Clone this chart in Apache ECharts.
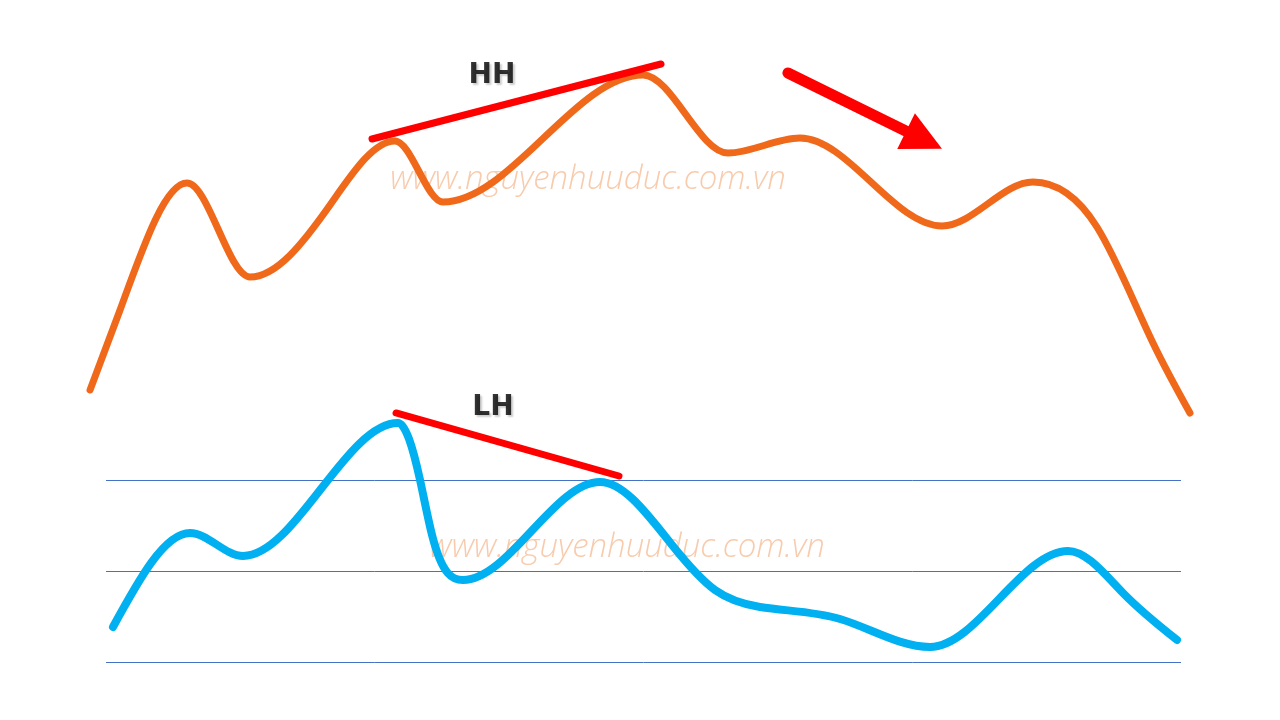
<!DOCTYPE html>
<html>
<head>
<meta charset="utf-8">
<script src="https://cdn.jsdelivr.net/npm/echarts@6/dist/echarts.min.js"></script>
<style>
html,body{margin:0;padding:0;background:#fff;}
#chart{width:1280px;height:720px;}
</style>
</head>
<body>
<div id="chart"></div>
<script>
// Price (orange) curve: time index and price value
const priceT = [0.17, 2.67, 8.25, 13.5, 20.17, 25.58, 29.58, 46.25, 53.33, 59.33, 71.17, 78.75, 84.08, 88.75, 91.83];
const priceV = [7.5, 27.5, 59.25, 35.75, 53.75, 69.75, 54.5, 86.25, 66.75, 70.5, 48.5, 59.5, 48.25, 19.25, 1.75];

// Oscillator (blue) curve: time index and oscillator value
const oscT = [2.08, 8.5, 12.92, 25.83, 27.67, 28.67, 31.25, 42.67, 48.67, 52.25, 56, 62.67, 70.17, 81.67, 86.25, 90.75];
const oscV = [37.69, 58.35, 53.3, 82.53, 70, 57.91, 48.02, 69.56, 55.71, 45.82, 42.09, 39.45, 33.3, 54.4, 45.16, 34.84];

// Oscillator reference levels
const oscLevels = [30, 50, 70];

// Trend lines
const hhT = [23.67, 47.75];
const hhV = [70.25, 89];
const lhT = [25.67, 44.25];
const lhV = [84.73, 70.88];

// Down arrow (price panel)
const arrowT = [58.33, 69.67];
const arrowV = [86.75, 70];

// Labels
const labelText = ['HH', 'LH'];
const labelT = [33.67, 33.75];
const labelV = [86, 85.8];

const watermark = 'www.nguyenhuuduc.com.vn';

const zip = (a, b) => a.map((v, i) => [v, b[i]]);

// Smooth cubic path through pixel points: flat tangents at local extrema,
// curvature-continuous spline tangents elsewhere, natural ends.
function smoothPath(pts) {
  const n = pts.length;
  const h = [], s = [];
  for (let i = 0; i < n - 1; i++) {
    h.push(pts[i + 1][0] - pts[i][0]);
    s.push((pts[i + 1][1] - pts[i][1]) / h[i]);
  }
  const A = new Array(n).fill(0), B = new Array(n).fill(0), C = new Array(n).fill(0), R = new Array(n).fill(0);
  B[0] = 2; C[0] = 1; R[0] = 3 * s[0];
  A[n - 1] = 1; B[n - 1] = 2; R[n - 1] = 3 * s[n - 2];
  for (let i = 1; i < n - 1; i++) {
    if (s[i - 1] * s[i] <= 0) { B[i] = 1; R[i] = 0; }
    else {
      A[i] = 1 / h[i - 1]; C[i] = 1 / h[i];
      B[i] = 2 * (A[i] + C[i]);
      R[i] = 3 * (s[i - 1] / h[i - 1] + s[i] / h[i]);
    }
  }
  // Thomas algorithm
  const cp = new Array(n).fill(0), dp = new Array(n).fill(0);
  cp[0] = C[0] / B[0]; dp[0] = R[0] / B[0];
  for (let i = 1; i < n; i++) {
    const den = B[i] - A[i] * cp[i - 1];
    cp[i] = C[i] / den;
    dp[i] = (R[i] - A[i] * dp[i - 1]) / den;
  }
  const m = new Array(n).fill(0);
  m[n - 1] = dp[n - 1];
  for (let i = n - 2; i >= 0; i--) m[i] = dp[i] - cp[i] * m[i + 1];
  let d = 'M' + pts[0][0] + ' ' + pts[0][1];
  for (let i = 1; i < n; i++) {
    const a = pts[i - 1], b = pts[i];
    const dx = (b[0] - a[0]) / 3;
    d += ' C' + (a[0] + dx) + ' ' + (a[1] + dx * m[i - 1]) + ' ' + (b[0] - dx) + ' ' + (b[1] - dx * m[i]) + ' ' + b[0] + ' ' + b[1];
  }
  return d;
}

function curveSeries(t, v, axisIdx, color, width) {
  const data = zip(t, v);
  return {
    type: 'custom', xAxisIndex: axisIdx, yAxisIndex: axisIdx, coordinateSystem: 'cartesian2d',
    data: data, clip: false, z: 3, silent: true,
    encode: { x: 0, y: 1 },
    renderItem: function (params, api) {
      if (params.dataIndex !== 0) return null;
      const pts = data.map(p => api.coord(p));
      return {
        type: 'path', shape: { pathData: smoothPath(pts) },
        style: { fill: 'none', stroke: color, lineWidth: width, lineCap: 'round', lineJoin: 'round' }
      };
    }
  };
}

const chart = echarts.init(document.getElementById('chart'));
const labelStyle = {
  show: true, position: 'inside', formatter: '{b}',
  fontFamily: '"DejaVu Sans", Verdana, sans-serif', fontWeight: 'bold', fontSize: 28, color: '#000000',
  textBorderWidth: 0,
  textShadowColor: 'rgba(0,0,0,0.25)', textShadowBlur: 2, textShadowOffsetX: 2, textShadowOffsetY: 2
};

chart.setOption({
  animation: false,
  backgroundColor: '#ffffff',
  grid: [
    { left: 88, right: 88, top: 60, height: 360 },
    { left: 106, right: 99, top: 480, height: 182 }
  ],
  xAxis: [
    { type: 'value', gridIndex: 0, min: 0, max: 92, show: false },
    { type: 'value', gridIndex: 1, min: 1.5, max: 91.0833, show: false }
  ],
  yAxis: [
    { type: 'value', gridIndex: 0, min: 0, max: 90, show: false },
    { type: 'value', gridIndex: 1, min: oscLevels[0], max: oscLevels[oscLevels.length - 1], interval: 20,
      axisLine: { show: false }, axisTick: { show: false }, axisLabel: { show: false },
      splitLine: { show: true, lineStyle: { color: '#4472c4', width: 1, type: 'solid' } } }
  ],
  graphic: [
    { type: 'text', x: 588, y: 180, z: -10, silent: true,
      style: { text: watermark, fill: '#f8cbad', font: 'italic 300 33px "Open Sans", sans-serif', textAlign: 'center', textVerticalAlign: 'middle' } },
    { type: 'text', x: 627, y: 548, z: -10, silent: true,
      style: { text: watermark, fill: '#f8cbad', font: 'italic 300 33px "Open Sans", sans-serif', textAlign: 'center', textVerticalAlign: 'middle' } }
  ],
  series: [
    curveSeries(priceT, priceV, 0, '#f0681a', 7),
    curveSeries(oscT, oscV, 1, '#00b0f0', 8),
    {
      type: 'line', xAxisIndex: 0, yAxisIndex: 0, data: zip(hhT, hhV),
      showSymbol: false, clip: false, z: 4,
      lineStyle: { color: '#ff0000', width: 7, cap: 'round' },
      markLine: {
        silent: true, z: 4,
        symbol: ['none', 'triangle'], symbolSize: 40,
        label: { show: false },
        itemStyle: { color: '#ff0000' },
        lineStyle: { color: '#ff0000', width: 11, type: 'solid', cap: 'round' },
        data: [[ { coord: [arrowT[0], arrowV[0]] }, { coord: [arrowT[1], arrowV[1]] } ]]
      }
    },
    {
      type: 'line', xAxisIndex: 1, yAxisIndex: 1, data: zip(lhT, lhV),
      showSymbol: false, clip: false, z: 4,
      lineStyle: { color: '#ff0000', width: 7, cap: 'round' }
    },
    {
      type: 'scatter', xAxisIndex: 0, yAxisIndex: 0, symbolSize: 0, clip: false, z: 5,
      data: [{ name: labelText[0], value: [labelT[0], labelV[0]] }],
      label: labelStyle
    },
    {
      type: 'scatter', xAxisIndex: 1, yAxisIndex: 1, symbolSize: 0, clip: false, z: 5,
      data: [{ name: labelText[1], value: [labelT[1], labelV[1]] }],
      label: labelStyle
    }
  ]
});
</script>
</body>
</html>
